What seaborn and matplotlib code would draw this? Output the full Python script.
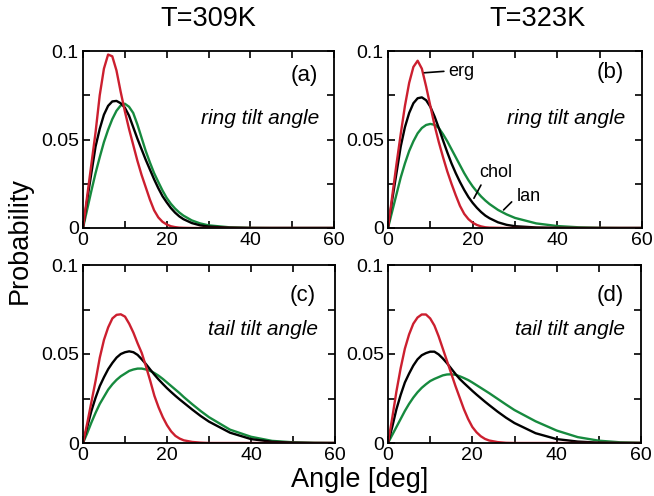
import numpy as np
import pandas as pd
import matplotlib
matplotlib.use("Agg")
import matplotlib.pyplot as plt
from matplotlib.ticker import MultipleLocator, FixedLocator, FixedFormatter
import seaborn as sns

# ---------------- data ----------------
angle = [0, 1, 2, 3, 4, 5, 6, 7, 8, 9, 10, 11, 12, 13, 14, 15, 16, 17, 18, 19,
         20, 21, 22, 23, 24, 26, 28, 30, 35, 40, 45, 50, 55, 60]

lipids = ["erg", "chol", "lan"]
colors = {"erg": "#cc1f2f", "chol": "#000000", "lan": "#168a3e"}

# (a) ring tilt angle, T=309K
a_erg = [0, .018, .036, .054, .075, .090, .098, .097, .089, .077, .066, .056, .047, .038, .030, .023, .016, .010, .006, .0035,
         .002, .001, .0005, .0002, .0001, 0, 0, 0, 0, 0, 0, 0, 0, 0]
a_chol = [0, .016, .031, .046, .056, .064, .069, .0715, .0718, .0705, .068, .0635, .057, .0505, .0445, .0385, .033, .0275, .0225, .018,
          .0145, .0113, .0087, .0066, .005, .0028, .0015, .0008, .0002, 0, 0, 0, 0, 0]
a_lan = [0, .0105, .021, .031, .040, .0485, .0555, .0615, .0662, .0692, .0702, .0685, .065, .0585, .051, .0435, .037, .031, .026, .0212,
         .017, .0137, .011, .0088, .007, .0043, .0026, .0015, .0004, .0001, 0, 0, 0, 0]

# (b) ring tilt angle, T=323K
b_erg = [0, .018, .036, .053, .069, .082, .091, .0945, .090, .080, .069, .058, .0485, .040, .032, .025, .0185, .0125, .008, .005,
         .003, .0017, .0009, .0004, .0002, .0001, 0, 0, 0, 0, 0, 0, 0, 0]
b_chol = [0, .016, .031, .046, .057, .065, .0705, .0733, .0738, .0722, .0685, .063, .0565, .0495, .0428, .0365, .031, .026, .0215, .0175,
          .0142, .0114, .009, .007, .0055, .0032, .0018, .001, .0003, .0001, 0, 0, 0, 0]
b_lan = [0, .0095, .019, .0285, .0365, .0435, .049, .0535, .0565, .0582, .0588, .0583, .0565, .053, .049, .0445, .040, .0355, .031, .027,
         .0235, .0205, .0178, .0155, .0135, .0102, .0077, .0057, .0026, .0011, .0004, .0001, 0, 0]

# (c) tail tilt angle, T=309K
c_erg = [0, .011, .023, .035, .048, .058, .065, .070, .072, .0723, .071, .067, .062, .056, .0505, .043, .035, .0265, .020, .0145,
         .010, .0065, .004, .0025, .0015, .0006, .0002, 0, 0, 0, 0, 0, 0, 0]
c_chol = [0, .009, .018, .0255, .032, .037, .0415, .045, .048, .050, .051, .0515, .051, .0495, .047, .0443, .0413, .0384, .0357, .0332,
          .0308, .0286, .0265, .0245, .0226, .0188, .0152, .012, .0058, .0022, .0007, .0002, 0, 0]
c_lan = [0, .0055, .0115, .017, .022, .026, .030, .033, .0355, .0375, .039, .0405, .0413, .0418, .0418, .0413, .0405, .0393, .0378, .036,
         .034, .032, .030, .028, .0258, .0218, .018, .0145, .0075, .0035, .0012, .0004, .0001, 0]

# (d) tail tilt angle, T=323K
d_erg = [0, .014, .029, .042, .053, .061, .067, .0705, .0722, .0722, .070, .066, .060, .053, .046, .039, .032, .0255, .019, .0135,
         .009, .006, .0038, .0023, .0014, .0005, .0001, 0, 0, 0, 0, 0, 0, 0]
d_chol = [0, .009, .019, .027, .034, .039, .0435, .047, .0493, .0505, .0513, .0513, .0498, .0475, .0448, .0418, .0388, .036, .0337, .0315,
          .0293, .0272, .0252, .0232, .0213, .0176, .0142, .0112, .0055, .0022, .0008, .0002, 0, 0]
d_lan = [0, .0045, .009, .0135, .018, .022, .0255, .0285, .031, .033, .0348, .036, .037, .038, .0385, .0386, .0383, .0375, .0365, .0354,
         .034, .0325, .031, .0295, .028, .0248, .0216, .0185, .0122, .007, .0033, .0013, .0004, .0001]

panels = [
    ("(a)", "ring tilt angle", {"erg": a_erg, "chol": a_chol, "lan": a_lan}),
    ("(b)", "ring tilt angle", {"erg": b_erg, "chol": b_chol, "lan": b_lan}),
    ("(c)", "tail tilt angle", {"erg": c_erg, "chol": c_chol, "lan": c_lan}),
    ("(d)", "tail tilt angle", {"erg": d_erg, "chol": d_chol, "lan": d_lan}),
]
col_titles = ["T=309K", "T=323K"]
xticks = [0, 20, 40, 60]
yticks = [0, 0.05, 0.1]
yticklabels = ["0", "0.05", "0.1"]

# ---------------- plotting ----------------
sns.set_theme(style="ticks")
plt.rcParams["font.family"] = ["Liberation Sans", "DejaVu Sans"]
plt.rcParams["text.color"] = "black"
plt.rcParams["axes.labelcolor"] = "black"
plt.rcParams["xtick.color"] = "black"
plt.rcParams["ytick.color"] = "black"

W, H = 654, 496
fig = plt.figure(figsize=(W / 100, H / 100), dpi=100)

boxes = [(83, 51, 334, 228), (388, 51, 642, 228), (83, 265, 335, 443), (388, 265, 641, 443)]
axes = []
for (x0, y0, x1, y1) in boxes:
    axes.append(fig.add_axes([x0 / W, 1 - y1 / H, (x1 - x0) / W, (y1 - y0) / H]))

letter_pos = [(52.9, 0.0864), (52.5, 0.0876), (52.4, 0.083), (52.6, 0.083)]
desc_pos = [(56.4, 0.062), (56.0, 0.062), (56.0, 0.0635), (56.1, 0.0635)]

for i, (ax, (letter, desc, series)) in enumerate(zip(axes, panels)):
    rows = []
    for lip in lipids:
        for xv, yv in zip(angle, series[lip]):
            rows.append({"angle": xv, "prob": yv, "lipid": lip})
    df = pd.DataFrame(rows)
    sns.lineplot(data=df, x="angle", y="prob", hue="lipid", hue_order=["lan", "chol", "erg"],
                 palette=colors, legend=False, linewidth=1.7, ax=ax, sort=False,
                 solid_joinstyle="round", solid_capstyle="round")
    ax.set_xlim(0, 60)
    ax.set_ylim(0, 0.1)
    ax.set_xlabel("")
    ax.set_ylabel("")
    ax.xaxis.set_major_locator(FixedLocator(xticks))
    ax.set_xticklabels([str(t) for t in xticks])
    ax.xaxis.set_minor_locator(MultipleLocator(10))
    ax.yaxis.set_major_locator(FixedLocator(yticks))
    ax.yaxis.set_major_formatter(FixedFormatter(yticklabels))
    ax.yaxis.set_minor_locator(MultipleLocator(0.025))
    ax.tick_params(which="both", direction="in", top=True, right=True,
                   length=5, width=1.2, colors="black")
    ax.tick_params(which="major", labelsize=14, pad=3)
    for sp in ax.spines.values():
        sp.set_linewidth(1.3)
        sp.set_color("black")
    ax.text(*letter_pos[i], letter, fontsize=16, ha="center", va="center", color="black")
    ax.text(*desc_pos[i], desc, fontsize=15, style="italic", ha="right", va="center", color="black")

# annotations on panel (b)
axb = axes[1]
axb.annotate("erg", xy=(8.6, 0.0877), xytext=(14.3, 0.0887), fontsize=13, ha="left", va="center",
             arrowprops=dict(arrowstyle="-", lw=1.2, color="black", shrinkA=1, shrinkB=0, relpos=(0, 0.5)))
axb.annotate("chol", xy=(20.3, 0.0168), xytext=(25.5, 0.0316), fontsize=13, ha="center", va="center",
             arrowprops=dict(arrowstyle="-", lw=1.2, color="black", shrinkA=1, shrinkB=0, relpos=(0.12, 0)))
axb.annotate("lan", xy=(27.3, 0.0102), xytext=(33.3, 0.0177), fontsize=13, ha="center", va="center",
             arrowprops=dict(arrowstyle="-", lw=1.2, color="black", shrinkA=2, shrinkB=0, relpos=(0, 0.5)))

fig.text(208 / W, 1 - 19 / H, col_titles[0], fontsize=19.5, ha="center", va="center")
fig.text(538 / W, 1 - 19 / H, col_titles[1], fontsize=19.5, ha="center", va="center")
fig.text(20 / W, 1 - 240 / H, "Probability", fontsize=19.5, rotation=90, ha="center", va="center")
fig.text(360 / W, 1 - 480 / H, "Angle [deg]", fontsize=19.5, ha="center", va="center")

fig.savefig("out.png", dpi=100, facecolor="white")
